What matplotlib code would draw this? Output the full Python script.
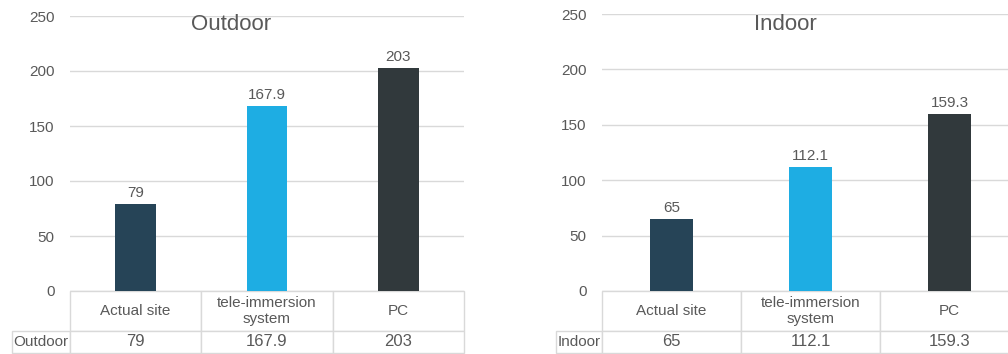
import matplotlib
matplotlib.use("Agg")
import matplotlib.pyplot as plt

categories = ["Actual site", "tele-immersion\nsystem", "PC"]
outdoor_values = [79, 167.9, 203]
indoor_values = [65, 112.1, 159.3]
value_labels_outdoor = ["79", "167.9", "203"]
value_labels_indoor = ["65", "112.1", "159.3"]
y_ticks = [0, 50, 100, 150, 200, 250]

bar_colors = ["#264457", "#1EADE3", "#31393C"]
text_color = "#595959"
grid_color = "#D9D9D9"

plt.rcParams["font.family"] = ["Liberation Sans", "DejaVu Sans"]

W, H = 1008, 354
fig = plt.figure(figsize=(W / 100, H / 100), dpi=100)
fig.patch.set_facecolor("white")


def px_axes(left, top, width, bottom):
    return fig.add_axes([left / W, 1 - bottom / H, width / W, (bottom - top) / H])


def draw_panel(ax, title, row_name, values, labels, row_label_px, width_px, height_px,
               title_x):
    x = list(range(len(values)))
    ax.bar(x, values, width=0.31, color=bar_colors, zorder=3)
    ax.set_xlim(-0.5, len(values) - 0.5)
    ax.set_ylim(0, 250)
    ax.set_yticks(y_ticks)
    ax.set_yticklabels([str(t) for t in y_ticks])
    ax.tick_params(axis="y", length=0, pad=11, labelsize=11, labelcolor=text_color)
    ax.set_xticks([])
    for s in ax.spines.values():
        s.set_visible(False)
    ax.yaxis.grid(True, color=grid_color, linewidth=1)
    ax.set_axisbelow(True)
    for xi, v, lab in zip(x, values, labels):
        ax.annotate(lab, (xi, v), xytext=(0, 3), textcoords="offset points",
                    ha="center", va="bottom", fontsize=11, color=text_color)
    fig.text(title_x / W, 1 - 24 / H, title, ha="center", va="center",
             fontsize=16, color=text_color)

    # data table beneath the axes; row labels sit left of the grid bbox
    rl = row_label_px / width_px
    header_h, row_h = 40, 22
    tbl = ax.table(cellText=[labels], rowLabels=[row_name], colLabels=categories,
                   cellLoc="center", rowLoc="left",
                   bbox=[0, -(header_h + row_h) / height_px, 1,
                         (header_h + row_h) / height_px])
    tbl.auto_set_font_size(False)
    tbl.set_fontsize(11)
    for (r, c), cell in tbl.get_celld().items():
        cell.set_edgecolor(grid_color)
        cell.set_linewidth(1)
        cell.get_text().set_color(text_color)
        cell.set_width(rl if c == -1 else 1 / 3)
        cell.set_height(header_h if r == 0 else row_h)
        if r == 1 and c >= 0:
            cell.get_text().set_fontsize(12)
        if c == -1:
            cell.PAD = 0.03


ax1 = px_axes(70, 16, 394, 291)
draw_panel(ax1, "Outdoor", "Outdoor", outdoor_values, value_labels_outdoor,
           59, 394, 275, 231)

ax2 = px_axes(602, 14, 417, 291)
draw_panel(ax2, "Indoor", "Indoor", indoor_values, value_labels_indoor,
           49, 417, 277, 785)

fig.savefig("out.png", dpi=100, facecolor="white")
